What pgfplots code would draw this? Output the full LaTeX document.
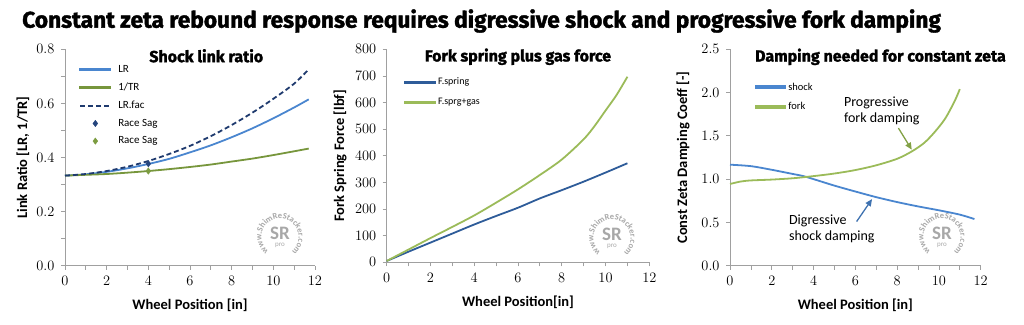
\documentclass[border=0pt]{standalone}
\usepackage{pgfplots}
\pgfplotsset{compat=1.18}
\usepackage{fontspec}
\setmainfont{Carlito}
\newfontfamily\titlefont{Fira Sans}[BoldFeatures={FakeBold=1.6}]
\usetikzlibrary{arrows.meta,decorations.text}
\definecolor{lrblue}{HTML}{4A86CF}
\definecolor{trgreen}{HTML}{77963C}
\definecolor{navy}{HTML}{1F3A6E}
\definecolor{fsblue}{HTML}{2E5C99}
\definecolor{lgreen}{HTML}{9BBB59}
\definecolor{axgray}{HTML}{A0A0A0}
\definecolor{stampgray}{HTML}{A8A8A8}
\pgfplotsset{
  exstyle/.style={
    scale only axis,
    axis x line*=bottom, axis y line*=left,
    axis line style={draw=axgray, line width=0.8pt},
    tick style={draw=axgray, line width=0.8pt},
    tick align=outside,
    major tick length=4pt, minor tick length=4pt,
    xmin=0, xmax=12, xtick={0,2,4,6,8,10,12}, minor x tick num=1,
    every tick label/.append style={font=\fontsize{13.5}{14}\selectfont},
    xticklabel style={yshift=-3pt},
    yticklabel style={xshift=-3pt},
    every axis x label/.style={at={(axis description cs:0.5,0)}, anchor=center, yshift=-39.5pt},
    every axis y label/.style={at={(axis description cs:0,0.5)}, anchor=center, rotate=90},
    label style={font=\bfseries\fontsize{14.5}{15}\selectfont},
    legend style={draw=none, fill=none, font=\fontsize{11}{11}\selectfont, row sep=7pt},
    legend cell align=left,
    legend image code/.code={\draw[##1] (0pt,0pt) -- (30pt,0pt);},
    clip=false,
  },
  lineleg/.style={legend image code/.code={\fill[#1] (0pt,-0.72pt) rectangle (30pt,0.72pt);}},
  markleg/.style={legend image code/.code={\draw[##1] plot coordinates {(15pt,0pt)};}},
}
\newcommand\stamp[2]{%
  \path[decorate, decoration={text along path, text align=center,
    text={|\fontsize{8.5}{8.5}\bfseries\color{stampgray}|www.ShimReStacker.com}}]
    (#1pt,#2pt) ++(245:18.5pt) arc[start angle=245, end angle=-65, radius=18.5pt];
  \node[text=stampgray, font=\bfseries\fontsize{19}{19}\selectfont, inner sep=0pt] at (#1pt,#2pt+4pt) {SR};
  \node[text=stampgray, font=\fontsize{7}{7}\selectfont, inner sep=0pt] at (#1pt,#2pt-8pt) {pro};
}
\begin{document}
\begin{tikzpicture}
\path[use as bounding box] (0,0) rectangle (1024pt,324pt);
\node[anchor=west, font=\titlefont\bfseries\fontsize{22.7}{23}\selectfont, inner sep=0pt] at (22pt,303pt) {Constant zeta rebound response requires digressive shock and progressive fork damping};

% Panel 1
\begin{axis}[exstyle, at={(65pt,58.3pt)}, anchor=south west, width=250pt, height=216.4pt,
  ymin=0, ymax=0.8, ytick={0,0.2,0.4,0.6,0.8}, minor y tick num=1,
  yticklabel style={/pgf/number format/.cd, fixed, fixed zerofill, precision=1},
  xlabel={Wheel Position [in]}, ylabel={Link Ratio [LR, 1/TR]},
  ylabel style={yshift=42pt},
  legend style={at={(axis description cs:0.045,0.945)}, anchor=north west, row sep=5pt,
    /tikz/every odd column/.append style={column sep=5pt}}]
\addplot[color=lrblue, line width=1.8pt, smooth, lineleg=lrblue] coordinates {(0,0.333)(1,0.338)(2,0.347)(3,0.360)(4,0.376)(5,0.395)(6,0.419)(7,0.445)(8,0.475)(9,0.508)(10,0.545)(11,0.585)(11.7,0.615)};
\addlegendentry{LR}
\addplot[color=trgreen, line width=1.8pt, smooth, lineleg=trgreen] coordinates {(0,0.333)(1,0.336)(2,0.339)(3,0.344)(4,0.350)(5,0.357)(6,0.365)(7,0.374)(8,0.385)(9,0.396)(10,0.409)(11,0.423)(11.7,0.433)};
\addlegendentry{1/TR}
\addplot[color=navy, line width=1.8pt, dash pattern=on 5pt off 3pt, smooth] coordinates {(0,0.333)(1,0.339)(2,0.350)(3,0.366)(4,0.387)(5,0.413)(6,0.443)(7,0.479)(8,0.520)(9,0.566)(10,0.617)(11,0.673)(11.7,0.726)};
\addlegendentry{LR.fac}
\addplot[only marks, mark=diamond*, mark size=3.2pt, color=navy!85!lrblue, markleg] coordinates {(4,0.377)};
\addlegendentry{Race Sag}
\addplot[only marks, mark=diamond*, mark size=3.2pt, color=trgreen!85!lgreen, markleg] coordinates {(4,0.350)};
\addlegendentry{Race Sag}
\node[font=\titlefont\bfseries\fontsize{16}{16}\selectfont] at (axis description cs:0.565,0.97) {Shock link ratio};
\end{axis}

% Panel 2
\begin{axis}[exstyle, at={(386.7pt,61.7pt)}, anchor=south west, width=262.6pt, height=213pt,
  ymin=0, ymax=800, ytick={0,100,200,300,400,500,600,700,800},
  xlabel={Wheel Position[in]}, ylabel={Fork Spring Force [lbf]},
  ylabel style={yshift=46.7pt},
  legend style={at={(axis description cs:0.055,0.885)}, anchor=north west, font=\fontsize{10}{10}\selectfont, row sep=8pt}]
\addplot[color=fsblue, line width=1.8pt, smooth, lineleg=fsblue] coordinates {(0,5)(1,40)(2,74)(3,108)(4,142)(5,174)(6,205)(7,240)(8,271)(9,303)(10,337)(11,372)};
\addlegendentry{F.spring}
\addplot[color=lgreen, line width=1.8pt, smooth, lineleg=lgreen] coordinates {(0,5)(1,48)(2,91)(3,133)(4,176)(5,224)(6,274)(7,328)(8,386)(9,462)(9.5,512)(10,570)(10.5,628)(11,697)};
\addlegendentry{F.sprg+gas}
\node[font=\titlefont\bfseries\fontsize{16}{16}\selectfont] at (axis description cs:0.5,0.965) {Fork spring plus gas force};
\end{axis}

% Panel 3
\begin{axis}[exstyle, at={(730pt,58.3pt)}, anchor=south west, width=250.7pt, height=216.4pt,
  ymin=0, ymax=2.5, ytick={0,0.5,1,1.5,2,2.5},
  yticklabel style={/pgf/number format/.cd, fixed, fixed zerofill, precision=1},
  xlabel={Wheel Position [in]}, ylabel={Const Zeta Damping Coeff [-]},
  ylabel style={yshift=47pt},
  legend style={at={(axis description cs:0.085,0.865)}, anchor=north west, font=\fontsize{10.5}{10.5}\selectfont, row sep=7pt}]
\addplot[color=lrblue, line width=1.8pt, smooth, lineleg=lrblue] coordinates {(0,1.167)(1,1.150)(2,1.108)(3,1.060)(3.5,1.036)(4,1.000)(5,0.925)(6,0.857)(7,0.792)(8,0.735)(9,0.685)(10,0.640)(11,0.590)(11.7,0.539)};
\addlegendentry{shock}
\addplot[color=lgreen, line width=1.8pt, smooth, lineleg=lgreen] coordinates {(0,0.944)(0.5,0.972)(1,0.985)(2,0.995)(3,1.010)(4,1.035)(5,1.065)(6,1.105)(7,1.160)(8,1.235)(8.7,1.320)(9.3,1.420)(9.8,1.545)(10.3,1.700)(10.75,1.900)(11,2.040)};
\addlegendentry{fork}
\node[font=\titlefont\bfseries\fontsize{16}{16}\selectfont] at (axis description cs:0.6,0.965) {Damping needed for constant zeta};
\node[anchor=north west, align=left, font=\fontsize{14}{15.5}\selectfont, inner sep=0pt] at (axis cs:5.45,1.95) {Progressive\\fork damping};
\node[anchor=north west, align=left, font=\fontsize{14}{15.5}\selectfont, inner sep=0pt] at (axis cs:2.82,0.585) {Digressive\\shock damping};
\draw[-{Triangle[length=7pt,width=6pt]}, line width=1.3pt, color=trgreen!70!lgreen] (axis cs:8.06,1.59) -- (axis cs:8.70,1.34);
\draw[-{Triangle[length=7pt,width=6pt]}, line width=1.3pt, color=lrblue!85!black] (axis cs:6.06,0.51) -- (axis cs:6.80,0.77);
\end{axis}

\stamp{280}{87}
\stamp{612}{86}
\stamp{942}{87}
\end{tikzpicture}
\end{document}
